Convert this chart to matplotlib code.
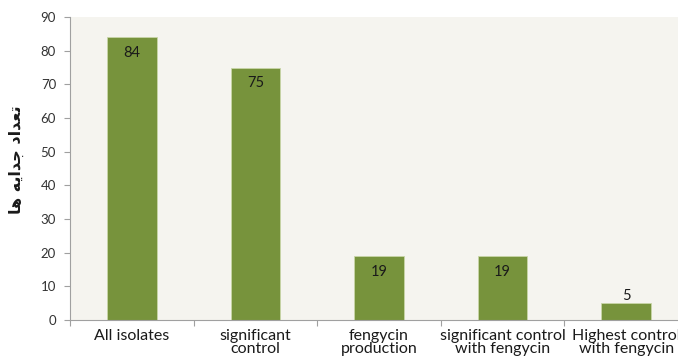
import matplotlib
matplotlib.use("Agg")
import matplotlib.pyplot as plt
import numpy as np

categories = ["All isolates", "significant\ncontrol", "fengycin\nproduction",
              "significant control\nwith fengycin", "Highest control\nwith fengycin"]
values = [84, 75, 19, 19, 5]
yticks = [0, 10, 20, 30, 40, 50, 60, 70, 80, 90]
# Persian label "تعداد جدایه ها" in visual order with presentation forms
ylabel = "\uFE8E\uFEEB \uFEEA\uFEF3\uFE8D\uFEAA\uFE9F \uFEA9\uFE8D\uFEAA\uFECC\uFE97"

plt.rcParams['font.family'] = ['Lato', 'DejaVu Sans']

fig = plt.figure(figsize=(6.78, 3.56), dpi=100)
ax = fig.add_axes([70/678, 1-320/356, 618/678, 303/356])
ax.set_facecolor('#F5F4EF')

x = np.arange(len(categories))
bars = ax.bar(x, values, width=0.4, color='#77933C', edgecolor='#C9D6A8', linewidth=0.6, zorder=2)

for xi, v in zip(x, values):
    if v > 10:
        ax.annotate(str(v), (xi, v), xytext=(0, -11.5), textcoords='offset points',
                    ha='center', va='center', fontsize=10.5, color='#1a1a1a')
    else:
        ax.annotate(str(v), (xi, v), xytext=(0, 0.0), textcoords='offset points',
                    ha='center', va='bottom', fontsize=10.5, color='#1a1a1a')

ax.set_xlim(-0.5, len(categories) - 0.5)
ax.set_ylim(0, 90)
ax.set_yticks(yticks)
ax.tick_params(axis='y', labelsize=9.5, length=4, width=0.8, direction='out', pad=6,
               colors='#A0A0A0', labelcolor='#333333')

ax.set_xticks(x)
ax.set_xticklabels(categories, fontsize=11.5, color='#1a1a1a', linespacing=0.95)
ax.tick_params(axis='x', length=0, pad=6.5)
ax.set_xticks(np.arange(-0.5, len(categories) + 0.5, 1), minor=True)
ax.tick_params(axis='x', which='minor', length=4, width=0.8, color='#A0A0A0')

for s in ['top', 'right']:
    ax.spines[s].set_visible(False)
for s in ['left', 'bottom']:
    ax.spines[s].set_color('#A0A0A0')
    ax.spines[s].set_linewidth(0.8)

fig.text(16/678, 1-160/356, ylabel, rotation=90, ha='center', va='center',
         fontsize=11.5, family='DejaVu Sans', fontweight='bold', color='#1a1a1a')

fig.savefig('out.png', dpi=100, facecolor='white')
